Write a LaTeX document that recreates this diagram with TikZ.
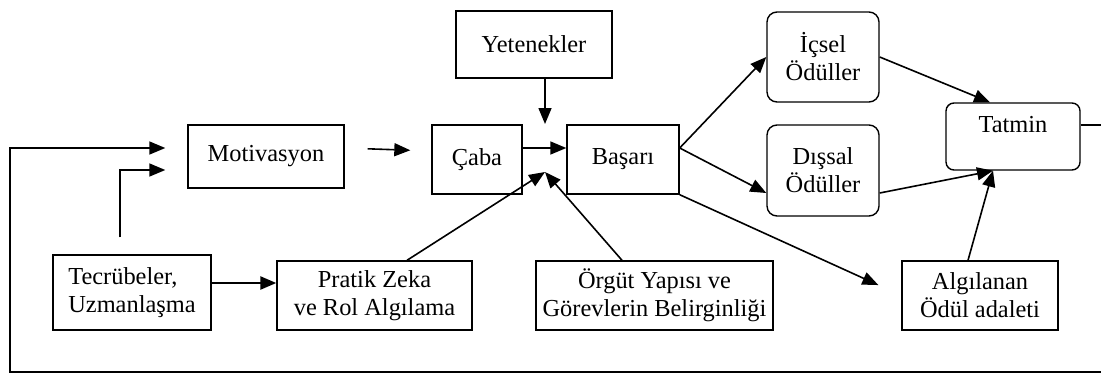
\documentclass[tikz,border=0pt]{standalone}
\usepackage{fontspec}
\setmainfont{Liberation Serif}
\usepackage{tikz}
\usetikzlibrary{arrows.meta}

\begin{document}
\begin{tikzpicture}[
    x=0.5pt, y=-0.5pt,
    font=\fontsize{12.2}{14}\selectfont,
    box/.style={
        draw,
        line width=0.7pt,
        align=center,
        inner sep=1.5pt,
        fill=white
    },
    rbox/.style={box, rounded corners=5pt},
    arrow/.style={-{Triangle[length=8pt,width=6.5pt]}, line width=0.8pt}
]
\useasboundingbox (0,0) rectangle (1101,375);

\node[box, minimum width=78pt, minimum height=33.5pt] (yet) at (534,44.5) {Yetenekler};
\node[box, minimum width=78pt, minimum height=31.5pt] (mot) at (266,156.5) {Motivasyon};
\node[box, minimum width=45pt, minimum height=34.5pt] (caba) at (477,159.5) {Çaba};
\node[box, minimum width=56pt, minimum height=34.5pt] (basari) at (623,159.5) {Başarı};

\node[rbox, minimum width=56pt, minimum height=45pt] (icsel) at (823,57) {İçsel\\Ödüller};
\node[rbox, minimum width=56pt, minimum height=45.5pt] (dissal) at (823,170.5) {Dışsal\\Ödüller};
\node[rbox, rounded corners=4pt, minimum width=67pt, minimum height=33.5pt, text depth=12pt] (tatmin) at (1013,136.5) {Tatmin};

\node[box, align=left, minimum width=79pt, minimum height=37.5pt] (tecr) at (132,292.5) {Tecrübeler,\\Uzmanlaşma};
\node[box, minimum width=97.5pt, minimum height=34.5pt] (pratik) at (374.5,295.5) {Pratik Zeka\\ve Rol Algılama};
\node[box, minimum width=118.5pt, minimum height=34.5pt] (orgut) at (654.5,295.5) {Örgüt Yapısı ve\\Görevlerin Belirginliği};
\node[box, minimum width=78pt, minimum height=34.5pt] (algi) at (980,295.5) {Algılanan\\Ödül adaleti};

% where the inputs of Başarı meet
\coordinate (ustgiris) at (545,124);
\coordinate (altgiris) at (545,172);
\coordinate (gdsag) at (1106,372);
\coordinate (gdsol) at (10,148);

\draw[arrow, shorten <=11.5pt, shorten >=10.5pt] ([yshift=4.25pt]mot.east) -- ([yshift=4.25pt]caba.west);
\draw[arrow] ([yshift=5.75pt]caba.east) -- ([yshift=5.75pt]basari.west);
\draw[arrow] ([xshift=5.5pt]yet.south) -- (ustgiris);
\draw[arrow] ([xshift=16.25pt]pratik.north) -- (altgiris);
\draw[arrow] ([xshift=-16.25pt]orgut.north) -- (altgiris);

\draw[arrow] ([yshift=5.75pt]basari.east) -- (icsel.west);
\draw[arrow] ([yshift=5.75pt]basari.east) -- ([yshift=-11.25pt]dissal.west);
\draw[arrow, shorten >=12.6pt] (basari.south east) -- (algi.west);

\draw[arrow] (icsel.east) -- ([xshift=-11.5pt]tatmin.north);
\draw[arrow] ([yshift=-11.25pt]dissal.east) -- ([xshift=-10pt]tatmin.south);
\draw[arrow] ([xshift=-6pt]algi.north) -- ([xshift=-10pt]tatmin.south);

\draw[arrow, line width=1.2pt] ([yshift=4.75pt]tecr.east) -- ([yshift=4.75pt]tecr.east -| pratik.west);
\draw[arrow] ([xshift=-6pt,yshift=8.5pt]tecr.north) |- ([xshift=-11pt,yshift=-6.75pt]mot.west);

% feedback loop from Tatmin
\draw[arrow] ([yshift=5.75pt]tatmin.east) -| (gdsag) -| (gdsol) -- ([xshift=-11pt,yshift=4.25pt]mot.west);

\end{tikzpicture}
\end{document}
